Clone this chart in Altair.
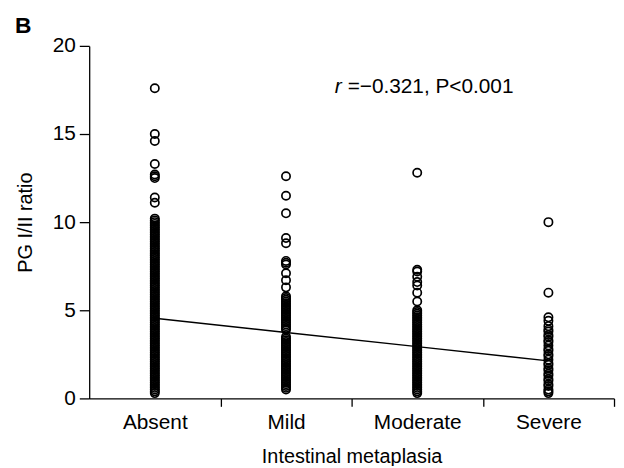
import altair as alt
import pandas as pd

categories = ["Absent", "Mild", "Moderate", "Severe"]

absent = [17.6, 15.0, 14.6, 13.3, 12.7, 12.6, 12.5, 11.4, 11.1,
          10.2, 10.1, 10.0, 9.9, 9.8, 9.7, 9.6, 9.5, 9.4, 9.3, 9.2, 9.1, 9.0,
          8.9, 8.8, 8.7, 8.6, 8.5, 8.4, 8.3, 8.2, 8.1, 8.0, 7.9, 7.8, 7.7, 7.6,
          7.5, 7.4, 7.3, 7.2, 7.1, 7.0, 6.9, 6.8, 6.7, 6.6, 6.5, 6.4, 6.3, 6.2,
          6.1, 6.0, 5.9, 5.8, 5.7, 5.6, 5.5, 5.4, 5.3, 5.2, 5.1, 5.0, 4.9, 4.8,
          4.7, 4.6, 4.5, 4.4, 4.3, 4.2, 4.1, 4.0, 3.9, 3.8, 3.7, 3.6, 3.5, 3.4,
          3.3, 3.2, 3.1, 3.0, 2.9, 2.8, 2.7, 2.6, 2.5, 2.4, 2.3, 2.2, 2.1, 2.0,
          1.9, 1.8, 1.7, 1.6, 1.5, 1.4, 1.3, 1.2, 1.1, 1.0, 0.9, 0.8, 0.7, 0.6,
          0.5, 0.4, 0.3]
mild = [12.6, 11.5, 10.5, 9.1, 8.8, 7.8, 7.7, 7.6, 7.1, 6.7, 6.3,
        5.8, 5.7, 5.6, 5.5, 5.4, 5.3, 5.2, 5.1, 5.0, 4.9, 4.8, 4.7, 4.6, 4.5,
        4.4, 4.3, 4.2, 4.1, 4.0, 3.9, 3.5, 3.4, 3.3, 3.2, 3.1, 3.0, 2.9, 2.8,
        2.7, 2.6, 2.5, 2.4, 2.3, 2.2, 2.1, 2.0, 1.9, 1.8, 1.7, 1.6, 1.5, 1.4,
        1.3, 1.2, 1.1, 1.0, 0.9, 0.8, 0.7, 0.6, 0.5]
moderate = [12.8, 7.3, 7.2, 6.9, 6.6, 6.4, 6.0, 5.5,
            5.0, 4.9, 4.8, 4.7, 4.6, 4.5, 4.4, 4.3, 4.2, 4.1, 4.0, 3.9, 3.8,
            3.7, 3.6, 3.5, 3.4, 3.3, 3.2, 3.1, 3.0, 2.9, 2.8, 2.7, 2.6, 2.5,
            2.4, 2.3, 2.2, 2.1, 2.0, 1.9, 1.8, 1.7, 1.6, 1.5, 1.4, 1.3, 1.2,
            1.1, 1.0, 0.9, 0.8, 0.7, 0.6, 0.5, 0.4, 0.3]
severe = [10.0, 6.0, 4.6, 4.4, 4.1, 3.9, 3.8, 3.6, 3.5, 3.3, 3.2, 3.0, 2.8,
          2.7, 2.5, 2.4, 2.2, 2.0, 1.9, 1.7, 1.6, 1.4, 1.3, 1.1, 1.0, 0.8, 0.7,
          0.5, 0.4, 0.3]

fit_values = [4.55, 3.74, 2.94, 2.13]

panel_label = ["B"]
stat_label = ["r", "=\u22120.321, P<0.001"]

series = [absent, mild, moderate, severe]
rows = []
for i, vals in enumerate(series):
    for v in vals:
        rows.append({"idx": i + 1, "cat": categories[i], "ratio": v})
points_df = pd.DataFrame(rows)
fit_df = pd.DataFrame({"idx": [1, 2, 3, 4], "fit": fit_values})
one_row = pd.DataFrame({"k": [0]})

FONT = "Liberation Sans"
label_expr = "[" + ",".join("'%s'" % c for c in categories) + "][datum.value - 1]"

x_scale = alt.Scale(domain=[0.5, 4.5], nice=False, zero=False)
y_scale = alt.Scale(domain=[0, 20], nice=False)

half_band = 530 / 4 / 2

x_axis = alt.Axis(
    title="Intestinal metaplasia",
    values=[1, 2, 3, 4],
    labelExpr=label_expr,
    tickOffset=half_band,
    labelOffset=-half_band,
    tickSize=8,
    labelPadding=5,
    titlePadding=15,
    grid=False,
)
y_axis = alt.Axis(
    title="PG I/II ratio",
    values=[0, 5, 10, 15, 20],
    tickSize=10,
    labelPadding=4,
    titlePadding=17,
    grid=False,
)

points = alt.Chart(points_df).mark_point(
    shape="circle", filled=False, color="black", size=70, strokeWidth=1.7, opacity=1
).encode(
    x=alt.X("idx:Q", scale=x_scale, axis=x_axis),
    y=alt.Y("ratio:Q", scale=y_scale, axis=y_axis),
)

fit_line = alt.Chart(fit_df).mark_line(color="black", strokeWidth=1.4).encode(
    x=alt.X("idx:Q", scale=x_scale),
    y=alt.Y("fit:Q", scale=y_scale),
)

r_text = alt.Chart(one_row).mark_text(
    text=stat_label[0], font=FONT, fontSize=21, fontStyle="italic", align="left",
    baseline="alphabetic", color="black"
).encode(x=alt.value(248), y=alt.value(48))

stat_text = alt.Chart(one_row).mark_text(
    text=stat_label[1], font=FONT, fontSize=21, align="left",
    baseline="alphabetic", color="black"
).encode(x=alt.value(261), y=alt.value(48))

b_text = alt.Chart(one_row).mark_text(
    text=panel_label[0], font=FONT, fontSize=23, fontWeight="bold", align="left",
    baseline="alphabetic", color="black"
).encode(x=alt.value(-75), y=alt.value(-13))

chart = alt.layer(points, fit_line, r_text, stat_text, b_text).properties(
    width=530,
    height=356,
    autosize=alt.AutoSizeParams(type="none"),
    padding={"left": 82, "top": 36, "right": 2, "bottom": 66},
).configure_view(stroke=None).configure_axis(
    domainColor="black", tickColor="black", labelColor="black", titleColor="black",
    labelFont=FONT, titleFont=FONT, labelFontSize=21, titleFontSize=20,
    titleFontWeight="normal", domainWidth=1.3, tickWidth=1.3,
)

chart.save("out.html", embed_options={"renderer": "svg", "actions": False})
